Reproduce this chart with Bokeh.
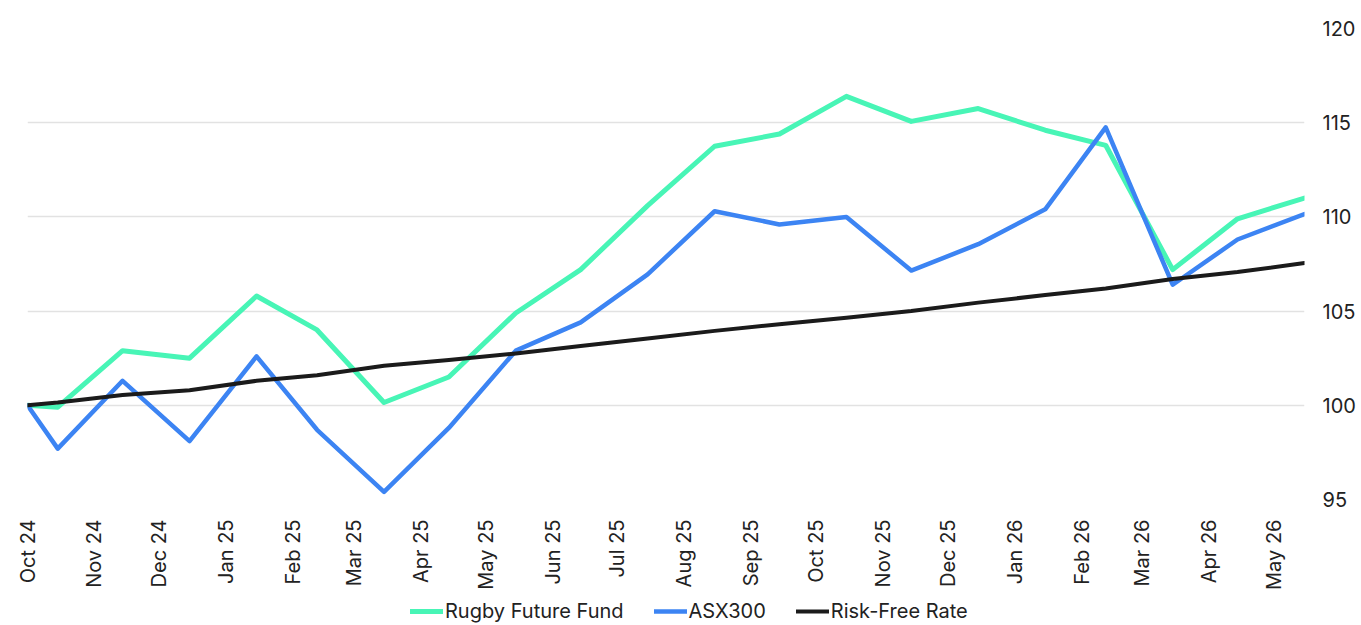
import math
import pandas as pd
from bokeh.plotting import figure
from bokeh.layouts import column
from bokeh.models import Range1d, FixedTicker, DatetimeTickFormatter, Legend, LegendItem, ColumnDataSource
from bokeh.embed import file_html
from bokeh.resources import INLINE

# ---- data ----
dates = ["2024-10-17", "2024-10-31", "2024-11-30", "2024-12-31", "2025-01-31", "2025-02-28",
         "2025-03-31", "2025-04-30", "2025-05-31", "2025-06-30", "2025-07-31", "2025-08-31",
         "2025-09-30", "2025-10-31", "2025-11-30", "2025-12-31", "2026-01-31", "2026-02-28",
         "2026-03-31", "2026-04-30", "2026-05-31"]
rugby = [100.0, 99.9, 102.9, 102.5, 105.8, 104.0, 100.15, 101.5, 104.9, 107.2, 110.6, 113.75,
         114.4, 116.4, 115.07, 115.75, 114.6, 113.8, 107.2, 109.9, 111.0]
asx300 = [100.0, 97.7, 101.3, 98.1, 102.6, 98.7, 95.4, 98.8, 102.9, 104.4, 106.95, 110.3,
          109.6, 110.0, 107.15, 108.55, 110.4, 114.75, 106.4, 108.8, 110.15]
riskfree = [100.0, 100.15, 100.55, 100.8, 101.3, 101.6, 102.1, 102.4, 102.75, 103.15, 103.55, 103.95,
            104.3, 104.65, 105.0, 105.45, 105.85, 106.2, 106.7, 107.07, 107.55]

tick_dates = ["2024-10-17", "2024-11-17", "2024-12-17", "2025-01-17", "2025-02-17", "2025-03-17",
              "2025-04-17", "2025-05-17", "2025-06-17", "2025-07-17", "2025-08-17", "2025-09-17",
              "2025-10-17", "2025-11-17", "2025-12-17", "2026-01-17", "2026-02-17", "2026-03-17",
              "2026-04-17", "2026-05-17"]
tick_labels = ["Oct 24", "Nov 24", "Dec 24", "Jan 25", "Feb 25", "Mar 25", "Apr 25", "May 25",
               "Jun 25", "Jul 25", "Aug 25", "Sep 25", "Oct 25", "Nov 25", "Dec 25", "Jan 26",
               "Feb 26", "Mar 26", "Apr 26", "May 26"]
y_ticks = [95, 100, 105, 110, 115, 120]

series_names = ["Rugby Future Fund", "ASX300", "Risk-Free Rate"]
series_cols = ["rugby", "asx", "rf"]
series_colors = ["#48F5B6", "#3C84F3", "#1B1B1B"]
series_widths = [5, 4.5, 4]

# ---- build ----
x = pd.to_datetime(dates)
tick_ms = [float(pd.Timestamp(d).value // 10**6) for d in tick_dates]

src = ColumnDataSource(dict(x=x, rugby=rugby, asx=asx300, rf=riskfree))

p = figure(width=1361, height=596, x_axis_type="datetime", y_axis_location="right",
           x_range=Range1d(x[0], x[-1]), y_range=Range1d(95, 120),
           output_backend="svg", toolbar_location=None)
p.min_border_left = 27
p.min_border_top = 28
p.min_border_right = 57
p.min_border_bottom = 97
p.outline_line_color = None
p.background_fill_color = "white"
p.border_fill_color = "white"

p.xgrid.visible = False
p.ygrid.grid_line_color = "#e2e2e2"
p.ygrid.grid_line_width = 1.5
p.ygrid.ticker = FixedTicker(ticks=y_ticks)

font = "Inter"
for ax in (p.xaxis[0], p.yaxis[0]):
    ax.axis_line_color = None
    ax.major_tick_line_color = None
    ax.minor_tick_line_color = None
    ax.major_label_text_font = font
    ax.major_label_text_font_size = "20px"
    ax.major_label_text_color = "#222222"

p.yaxis[0].ticker = FixedTicker(ticks=y_ticks)
p.yaxis[0].major_label_standoff = 12

p.xaxis[0].ticker = FixedTicker(ticks=tick_ms)
p.xaxis[0].formatter = DatetimeTickFormatter(days="%b %y", months="%b %y", years="%b %y")
p.xaxis[0].major_label_overrides = {t: l for t, l in zip(tick_ms, tick_labels)}
p.xaxis[0].major_label_orientation = math.pi / 2
p.xaxis[0].major_label_standoff = 14

for col, c, w in zip(series_cols, series_colors, series_widths):
    p.line("x", col, source=src, line_color=c, line_width=w,
           line_join="round", line_cap="round")

# ---- legend strip below (its series lie outside this strip's ranges, only swatches show) ----
q = figure(width=1361, height=29, x_range=Range1d(0, 1), y_range=Range1d(0, 1),
           x_axis_location=None, y_axis_location=None,
           output_backend="svg", toolbar_location=None)
q.min_border_left = 0
q.min_border_right = 0
q.min_border_top = 0
q.min_border_bottom = 0
q.outline_line_color = None
q.xgrid.visible = False
q.ygrid.visible = False

swatches = [q.line("x", col, source=src, line_color=c, line_width=w, line_cap="round")
            for col, c, w in zip(series_cols, series_colors, series_widths)]
legend = Legend(items=[LegendItem(label=n, renderers=[r]) for n, r in zip(series_names, swatches)],
                orientation="horizontal", location=(383, 2),
                border_line_color=None, background_fill_alpha=0,
                label_text_font=font, label_text_font_size="20px", label_text_color="#222222",
                glyph_width=33, glyph_height=22, label_standoff=2, spacing=30,
                padding=0, margin=0)
q.add_layout(legend, "center")

layout = column(p, q, spacing=0)
open("out.html", "w").write(file_html(layout, INLINE))
